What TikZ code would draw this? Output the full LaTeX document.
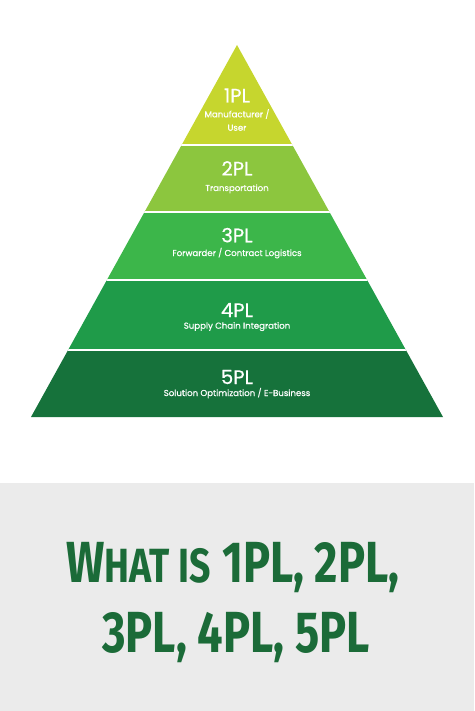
\documentclass[tikz,border=0pt]{standalone}
\usepackage{fontspec}
\setmainfont{Poppins}
\newfontfamily\labelfont[UprightFeatures={FakeBold=0.6}]{Poppins}
\newfontfamily\titlefont[FakeStretch=0.78]{Fira Sans}
\usepackage{xcolor}
\usetikzlibrary{calc}
\definecolor{plOne}{HTML}{C6D62E}
\definecolor{plTwo}{HTML}{8CC63E}
\definecolor{plThree}{HTML}{3CB64A}
\definecolor{plFour}{HTML}{1F9B49}
\definecolor{plFive}{HTML}{16723B}
\definecolor{titleGreen}{HTML}{1B6B38}
\definecolor{boxGray}{HTML}{EBEBEB}

\begin{document}
\begin{tikzpicture}[x=1pt,y=-1pt,
    tier/.style  = {text=white, inner sep=0pt, anchor=base,
                    font=\labelfont\fontsize{19.5}{22}\selectfont},
    sub/.style   = {text=white, inner sep=0pt, anchor=base,
                    font=\labelfont\fontsize{8.6}{13}\selectfont},
    title/.style = {text=titleGreen, inner sep=0pt, anchor=base,
                    font=\titlefont\bfseries\fontsize{58}{70}\selectfont}]
  \useasboundingbox (0,0) rectangle (474,711);
  % the pyramid, cut in five bands
  \begin{scope}
    \clip (237,45) -- (443,417) -- (31,417) -- cycle;
    \foreach \top/\bot/\col in {40/145/plOne, 145/212/plTwo,
        212/280/plThree, 280/350/plFour, 350/420/plFive}
      \fill[\col] (0,\top) rectangle (474,\bot);
    \foreach \y in {145,212,280,350}
      \draw[white, line width=2pt] (0,\y) -- (474,\y);
  \end{scope}
  \node[tier] (one)   at (237,102.5) {1PL};
  \node[sub]  (oneSubA) at (237,117.3) {Manufacturer /};
  \node[sub]  (oneSubB) at (237,130.7) {User};
  \node[tier] (two)   at (237,175.5) {2PL};
  \node[sub]  (twoSub) at (237,191) {Transportation};
  \node[tier] (three) at (237,242.3) {3PL};
  \node[sub]  (threeSub) at (237,256) {Forwarder / Contract Logistics};
  \node[tier] (four)  at (237,317) {4PL};
  \node[sub]  (fourSub) at (237,328.7) {Supply Chain Integration};
  \node[tier] (five)  at (237,384) {5PL};
  \node[sub]  (fiveSub) at (237,396) {Solution Optimization / E-Business};
  % the title box
  \fill[boxGray] (0,483) rectangle (474,711);
  \node[title] (titleA) at (233,582)
    {W{\fontsize{48}{58}\selectfont HAT IS} 1PL, 2PL,};
  \node[title] (titleB) at (236,652) {3PL, 4PL, 5PL};
\end{tikzpicture}
\end{document}
